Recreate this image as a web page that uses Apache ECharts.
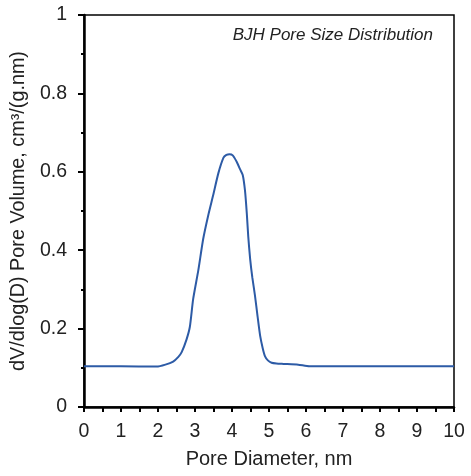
<!DOCTYPE html>
<html>
<head>
<meta charset="utf-8">
<script src="https://cdn.jsdelivr.net/npm/echarts@6/dist/echarts.min.js"></script>
<style>html,body{margin:0;padding:0;background:#fff;}#c{width:471px;height:476px;}</style>
</head>
<body>
<div id="c"></div>
<script>
const poreDiameter = [0, 1, 1.96, 2.2, 2.41, 2.55, 2.64, 2.77, 2.86, 2.95, 3.09, 3.22, 3.36, 3.49, 3.63, 3.77, 3.85, 3.93, 4.02, 4.13, 4.22, 4.29, 4.35, 4.40, 4.44, 4.49, 4.55, 4.62, 4.69, 4.76, 4.83, 4.89, 4.97, 5.07, 5.20, 5.39, 5.79, 6.09, 7, 8, 9, 10];
const poreVolume = [0.104, 0.104, 0.103, 0.108, 0.116, 0.128, 0.140, 0.172, 0.204, 0.275, 0.349, 0.428, 0.490, 0.540, 0.596, 0.636, 0.643, 0.645, 0.642, 0.625, 0.606, 0.592, 0.553, 0.494, 0.434, 0.378, 0.330, 0.285, 0.232, 0.182, 0.150, 0.130, 0.119, 0.113, 0.111, 0.110, 0.108, 0.104, 0.104, 0.104, 0.104, 0.104];
const xTicks = [0, 1, 2, 3, 4, 5, 6, 7, 8, 9, 10];
const yTicks = [0, 0.2, 0.4, 0.6, 0.8, 1];
const chartTitle = 'BJH Pore Size Distribution';
const xName = 'Pore Diameter, nm';
const yName = 'dV/dlog(D) Pore Volume, cm\u00B3/(g.nm)';

const font = 'Liberation Sans, Arial, sans-serif';
const chart = echarts.init(document.getElementById('c'), null, {renderer: 'canvas'});
chart.setOption({
  animation: false,
  backgroundColor: '#fff',
  title: {
    text: chartTitle,
    right: 38, top: 27, padding: 0,
    textStyle: {fontFamily: font, fontStyle: 'italic', fontWeight: 'normal', fontSize: 17, color: '#222'}
  },
  grid: {left: 84, top: 15, right: 17, bottom: 69, show: true, borderColor: '#000', borderWidth: 1.5, backgroundColor: 'transparent'},
  xAxis: {
    type: 'value', min: xTicks[0], max: xTicks[xTicks.length - 1], interval: 1,
    name: xName, nameLocation: 'middle', nameGap: 42,
    nameTextStyle: {fontFamily: font, fontSize: 20, color: '#222'},
    axisLine: {show: true, onZero: false, lineStyle: {color: '#000', width: 2.5}},
    axisTick: {show: true, length: 5, lineStyle: {color: '#000', width: 2}},
    minorTick: {show: true, splitNumber: 2, length: 5, lineStyle: {color: '#000', width: 2}},
    axisLabel: {fontFamily: font, fontSize: 19.5, color: '#222', margin: 15},
    splitLine: {show: false}
  },
  yAxis: {
    type: 'value', min: yTicks[0], max: yTicks[yTicks.length - 1], interval: 0.2,
    name: yName, nameLocation: 'middle', nameGap: 46,
    nameTextStyle: {fontFamily: font, fontSize: 19.8, color: '#222'},
    axisLine: {show: true, onZero: false, lineStyle: {color: '#000', width: 2.5}},
    axisTick: {show: true, length: 6, lineStyle: {color: '#000', width: 2}},
    minorTick: {show: true, splitNumber: 2, length: 3, lineStyle: {color: '#000', width: 2}},
    axisLabel: {fontFamily: font, fontSize: 19.5, color: '#222', margin: 17},
    splitLine: {show: false}
  },
  series: [{
    type: 'line',
    data: poreDiameter.map((d, i) => [d, poreVolume[i]]),
    showSymbol: false,
    smooth: 0.2,
    lineStyle: {color: '#2d5ba6', width: 2},
    itemStyle: {color: '#2d5ba6'}
  }]
});
</script>
</body>
</html>
